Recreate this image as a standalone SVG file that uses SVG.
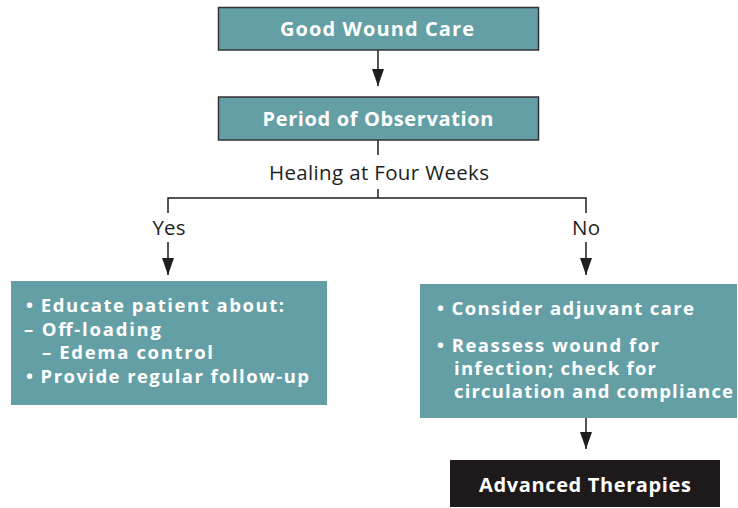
<svg xmlns="http://www.w3.org/2000/svg" width="738" height="508" viewBox="0 0 738 508">
<defs>
<style>
.box{fill:#649fa6}
.bord{stroke:#333;stroke-width:1.5}
.dark{fill:#1e1a1b}
.t{font-family:"Open Sans","Liberation Sans",sans-serif;font-weight:700;font-size:18.5px;fill:#fff}
.h{font-size:20px}
.c{text-anchor:middle}
.lbl{font-family:"Open Sans","Liberation Sans",sans-serif;font-size:20.5px;fill:#1e1e1e;text-anchor:middle}
.ln{stroke:#1e1e1e;stroke-width:1.5;fill:none}
</style>
<marker id="ah" viewBox="0 0 17 12" refX="17" refY="6" markerWidth="17" markerHeight="12" markerUnits="userSpaceOnUse" orient="auto">
<path d="M0,0 L17,6 L0,12 z" fill="#1e1e1e"/>
</marker>
</defs>
<rect width="738" height="508" fill="#fff"/>
<g id="connectors">
<path class="ln" d="M378,50 V86" marker-end="url(#ah)"/>
<path class="ln" d="M378,140 V155"/>
<path class="ln" d="M378,189 V198"/>
<path class="ln" d="M168,213 V198 H586 V213"/>
<path class="ln" d="M168,242 V275" marker-end="url(#ah)"/>
<path class="ln" d="M586,242 V275" marker-end="url(#ah)"/>
<path class="ln" d="M586,418 V449" marker-end="url(#ah)"/>
<text class="lbl" x="379" y="180" textLength="220">Healing at Four Weeks</text>
<text class="lbl" x="169" y="235" textLength="33">Yes</text>
<text class="lbl" x="586" y="235" textLength="28">No</text>
</g>
<g id="good-wound-care">
<rect class="box bord" x="218.5" y="7.5" width="320" height="42.5"/>
<text class="t h c" x="377" y="36" textLength="194">Good Wound Care</text>
</g>
<g id="period-of-observation">
<rect class="box bord" x="218.5" y="97" width="320" height="43"/>
<text class="t h c" x="378" y="125.5" textLength="231">Period of Observation</text>
</g>
<g id="yes-box">
<rect class="box" x="11" y="281" width="316" height="124"/>
<text class="t" x="26" y="312" textLength="258">• Educate patient about:</text>
<text class="t" x="24" y="335.5" textLength="137">– Off-loading</text>
<text class="t" x="42" y="359" textLength="171">– Edema control</text>
<text class="t" x="26" y="383" textLength="283">• Provide regular follow-up</text>
</g>
<g id="no-box">
<rect class="box" x="420" y="284" width="317" height="134"/>
<text class="t" x="437" y="315" textLength="257">• Consider adjuvant care</text>
<text class="t" x="437" y="352" textLength="222">• Reassess wound for</text>
<text class="t" x="454" y="375" textLength="202">infection; check for</text>
<text class="t" x="454" y="398" textLength="279">circulation and compliance</text>
</g>
<g id="advanced-therapies">
<rect class="dark" x="450" y="460" width="270" height="47"/>
<text class="t h c" x="585" y="492" textLength="212">Advanced Therapies</text>
</g>
</svg>
